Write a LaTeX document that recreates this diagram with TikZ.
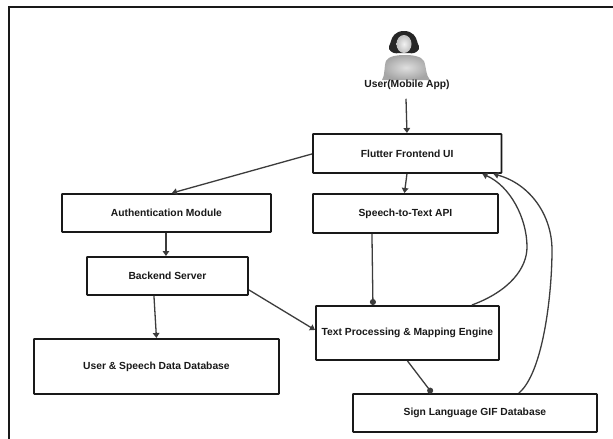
\documentclass[tikz,border=0pt]{standalone}
\usepackage{fontspec}
\setmainfont{Liberation Sans}
\usetikzlibrary{arrows.meta}
\definecolor{ink}{gray}{0.1}
\tikzset{
  x=1pt,y=-1pt,
  boxnode/.style={draw=ink,line width=1.9pt,rounded corners=0.6pt,fill=white,inner sep=0pt,
    font=\fontsize{10.3}{12}\selectfont\bfseries,text=ink,anchor=north west},
  conn/.style={draw=ink!85,line width=1.3pt},
  tri/.style={conn,-{Triangle[length=5pt,width=6.5pt]}},
  dot/.style={conn,-{Circle[length=6pt,width=6pt]}},
}
\begin{document}
\begin{tikzpicture}
\useasboundingbox (0,0) rectangle (613,439);
\fill[white] (0,0) rectangle (613,439);
\draw[ink,line width=2.3pt] (9,439) -- (9,7) -- (613,7);

% person
\shade[inner color=gray!25,outer color=gray!70] (382,80) .. controls (385,76) and (384,66) .. (386,61)
  .. controls (388,56) and (398,55) .. (405,55) .. controls (412,55) and (421,56) .. (424,61)
  .. controls (426,66) and (426,76) .. (430,80) -- cycle;
\fill[black!85] (404,31) .. controls (395,31) and (392,37) .. (391,41) .. controls (390,45) and (388,47) .. (389,49)
  .. controls (391,53) and (396,54) .. (399,53) -- (409,53) .. controls (412,54) and (417,53) .. (419,49)
  .. controls (420,47) and (418,45) .. (417,41) .. controls (416,37) and (413,31) .. (404,31) -- cycle;
\shade[inner color=gray!10,outer color=gray!50] (404,44) ellipse (7.5 and 9);

\node[boxnode,draw=none,fill=none,anchor=center] (user) at (407,85) {User(Mobile App)};
\node[boxnode,minimum width=188.5pt,minimum height=39pt] (flutter) at (312,133) {Flutter Frontend UI};
\node[boxnode,minimum width=185pt,minimum height=39pt] (stt) at (312,193) {Speech-to-Text API};
\node[boxnode,minimum width=209pt,minimum height=38pt] (auth) at (61,193) {Authentication Module};
\node[boxnode,minimum width=161pt,minimum height=38pt] (backend) at (86,256) {Backend Server};
\node[boxnode,minimum width=245pt,minimum height=55pt] (userdb) at (33,338) {User \& Speech Data Database};
\node[boxnode,minimum width=183pt,minimum height=54pt] (tp) at (315,305) {Text Processing \& Mapping Engine};
\node[boxnode,minimum width=244pt,minimum height=38pt] (sign) at (352,393) {Sign Language GIF Database};

\draw[tri] ([xshift=-1pt,yshift=-8pt]user.south) -- ([xshift=-0.25pt]flutter.north);
\draw[tri] ([yshift=-0.5pt]flutter.west) -- ([xshift=5.5pt]auth.north);
\draw[tri] ([xshift=-0.25pt]flutter.south) -- ([xshift=-1pt]stt.north);
\draw[tri] ([xshift=-0.5pt]auth.south) -- ([xshift=-1.5pt]backend.north);
\draw[tri] ([xshift=-13.5pt]backend.south) -- ([xshift=0pt]userdb.north);
\draw[tri] ([yshift=6pt]backend.south east) -- ([yshift=3pt]tp.west);
\draw[dot] ([xshift=-33.5pt]stt.south) -- ([xshift=-34.5pt]tp.north);
\draw[dot] ([xshift=0pt]tp.south) -- ([xshift=-43pt]sign.north);
\draw[tri] ([xshift=-28pt]tp.north east) .. controls +(38,-14) and (527,268) .. (527,247)
  .. controls (527,218) and (510,186) .. ([xshift=-20pt]flutter.south east);
\draw[tri] ([xshift=-79pt]sign.north east) .. controls +(24,-20) and (552,295) .. (552,250)
  .. controls (552,215) and (530,184) .. ([xshift=-9pt]flutter.south east);
\end{tikzpicture}
\end{document}
